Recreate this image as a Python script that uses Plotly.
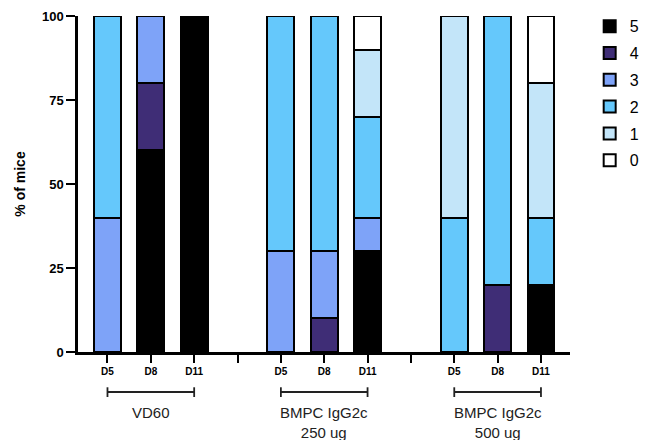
import plotly.graph_objects as go

# categories (spacers between groups)
categories = ["VD60 D5", "VD60 D8", "VD60 D11", "gap1",
              "250 D5", "250 D8", "250 D11", "gap2",
              "500 D5", "500 D8", "500 D11"]
tick_labels = ["D5", "D8", "D11", "", "D5", "D8", "D11", "", "D5", "D8", "D11"]
bar_categories = ["VD60 D5", "VD60 D8", "VD60 D11",
                  "250 D5", "250 D8", "250 D11",
                  "500 D5", "500 D8", "500 D11"]

scores = ["5", "4", "3", "2", "1", "0"]
score5 = [0, 60, 100, 0, 0, 30, 0, 0, 20]
score4 = [0, 20, 0, 0, 10, 0, 0, 20, 0]
score3 = [40, 20, 0, 30, 20, 10, 0, 0, 0]
score2 = [60, 0, 0, 70, 70, 30, 40, 80, 20]
score1 = [0, 0, 0, 0, 0, 20, 60, 0, 40]
score0 = [0, 0, 0, 0, 0, 10, 0, 0, 20]
series = [score5, score4, score3, score2, score1, score0]
colors = ["#000000", "#3F2D76", "#7EA3F8", "#65C8FB", "#C3E5F9", "#FFFFFF"]

groups = [("VD60 D5", "VD60 D11", "VD60 D8", "VD60"),
          ("250 D5", "250 D11", "250 D8", "BMPC IgG2c<br>250 ug"),
          ("500 D5", "500 D11", "500 D8", "BMPC IgG2c<br>500 ug")]

y_ticks = [0, 25, 50, 75, 100]

fig = go.Figure()
for name, vals, col in zip(scores, series, colors):
    fig.add_trace(go.Bar(
        x=bar_categories, y=vals, name=name, legendgroup=name,
        marker=dict(color=col, line=dict(color="black", width=2)),
        width=0.62,
    ))

shapes = []
annotations = []
for start, end, mid, label in groups:
    shapes.append(dict(type="line", xref="x", yref="paper", x0=start, x1=end,
                       y0=-0.119, y1=-0.119, line=dict(color="#222", width=1.8)))
    for xc in (start, end):
        shapes.append(dict(type="line", xref="x", yref="paper", x0=xc, x1=xc,
                           y0=-0.105, y1=-0.134, line=dict(color="#222", width=1.8)))
    annotations.append(dict(x=mid, xref="x", y=-0.148, yref="paper", text=label,
                            showarrow=False, yanchor="top",
                            font=dict(size=15, color="#222")))

fig.update_layout(
    width=649, height=432,
    margin=dict(l=70, r=87, t=8, b=88, autoexpand=False),
    barmode="stack",
    bargap=0.36,
    plot_bgcolor="white", paper_bgcolor="white",
    font=dict(family="Liberation Sans, Arial, sans-serif", color="black"),
    showlegend=True,
    legend=dict(x=1.04, y=1.02, xanchor="left", yanchor="top",
                traceorder="grouped", font=dict(size=16),
                tracegroupgap=3, itemwidth=30, borderwidth=0),
    shapes=shapes,
    annotations=annotations,
)
fig.update_xaxes(
    type="category", categoryorder="array", categoryarray=categories,
    tickmode="array", tickvals=categories, ticktext=tick_labels,
    range=[-0.68, 10.67], automargin=False,
    showline=True, linecolor="black", linewidth=2.5,
    ticks="outside", ticklen=8, tickwidth=2, tickcolor="black",
    tickfont=dict(size=10, weight="bold"),
    showgrid=False, zeroline=False,
)
fig.update_yaxes(
    range=[0, 100], tickvals=y_ticks, automargin=False,
    showline=True, linecolor="black", linewidth=2.5,
    ticks="outside", ticklen=9, tickwidth=2, tickcolor="black",
    tickfont=dict(size=13, weight="bold"),
    title=dict(text="% of mice", font=dict(size=14, weight="bold"), standoff=14),
    showgrid=False, zeroline=False,
)

fig.write_html("out.html")
